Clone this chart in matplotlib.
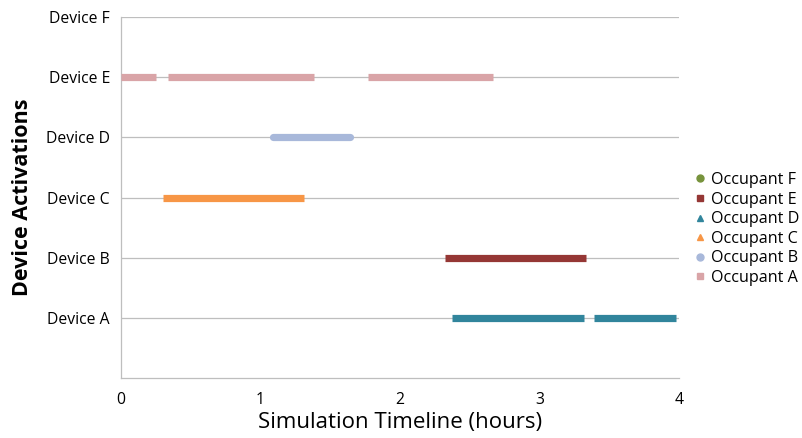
import matplotlib
matplotlib.use("Agg")
import matplotlib.pyplot as plt
from matplotlib.lines import Line2D

plt.rcParams['font.family'] = ['Open Sans', 'DejaVu Sans']

devices = ["Device A", "Device B", "Device C", "Device D", "Device E", "Device F"]
device_pos = [1, 2, 3, 4, 5, 6]

occupants = ["Occupant F", "Occupant E", "Occupant D", "Occupant C", "Occupant B", "Occupant A"]
colors = {"Occupant A": "#D9A4A7", "Occupant B": "#A8B8DA", "Occupant C": "#F79646",
          "Occupant D": "#31859C", "Occupant E": "#953735", "Occupant F": "#77933C"}
markers = {"Occupant A": "s", "Occupant B": "o", "Occupant C": "^",
           "Occupant D": "^", "Occupant E": "s", "Occupant F": "o"}

# activation intervals: start / end hours and device level per occupant
occ_A_starts = [0.0, 0.34, 1.77]
occ_A_ends = [0.25, 1.38, 2.67]
occ_A_level = 5
occ_B_starts = [1.09]
occ_B_ends = [1.64]
occ_B_level = 4
occ_C_starts = [0.30]
occ_C_ends = [1.31]
occ_C_level = 3
occ_E_starts = [2.32]
occ_E_ends = [3.33]
occ_E_level = 2
occ_D_starts = [2.37, 3.39]
occ_D_ends = [3.32, 3.98]
occ_D_level = 1

fig = plt.figure(figsize=(8.02, 4.38), dpi=100)
ax = fig.add_axes([121/802, 1-378/438, (679-121)/802, (378-17)/438])

series = [("Occupant A", occ_A_starts, occ_A_ends, occ_A_level, 'butt'),
          ("Occupant B", occ_B_starts, occ_B_ends, occ_B_level, 'round'),
          ("Occupant C", occ_C_starts, occ_C_ends, occ_C_level, 'butt'),
          ("Occupant E", occ_E_starts, occ_E_ends, occ_E_level, 'butt'),
          ("Occupant D", occ_D_starts, occ_D_ends, occ_D_level, 'butt')]
for name, starts, ends, lvl, cap in series:
    for s, e in zip(starts, ends):
        ax.plot([s, e], [lvl, lvl], color=colors[name], lw=5.2,
                solid_capstyle=cap, zorder=3)

ax.set_xlim(0, 4)
ax.set_ylim(0, 6)
ax.set_xticks([0, 1, 2, 3, 4])
ax.set_xticklabels(["0", "1", "2", "3", "4"])
ax.set_yticks(device_pos)
ax.set_yticklabels(devices)
ax.grid(axis='y', color='#BEBEBE', lw=0.9)
ax.set_axisbelow(True)
for sp in ['top', 'right']:
    ax.spines[sp].set_visible(False)
for sp in ['left', 'bottom']:
    ax.spines[sp].set_color('#BEBEBE')
    ax.spines[sp].set_linewidth(0.9)
ax.tick_params(axis='both', length=0, labelsize=11.3, colors='black')
ax.tick_params(axis='x', pad=10)
ax.tick_params(axis='y', pad=8)
ax.set_xlabel("Simulation Timeline (hours)", fontsize=16, labelpad=3)
ax.set_ylabel("Device Activations", fontsize=15.5, fontweight='bold', labelpad=9)

handles = [Line2D([], [], ls='none', marker=markers[o], color=colors[o], markersize=5)
           for o in occupants]
fig.legend(handles, occupants, loc='upper left', bbox_to_anchor=(684/802, 1-164/438),
           frameon=False, fontsize=11.6, handletextpad=0.15, labelspacing=0.22,
           handlelength=1.0, borderpad=0)

fig.savefig("out.png", dpi=100)
